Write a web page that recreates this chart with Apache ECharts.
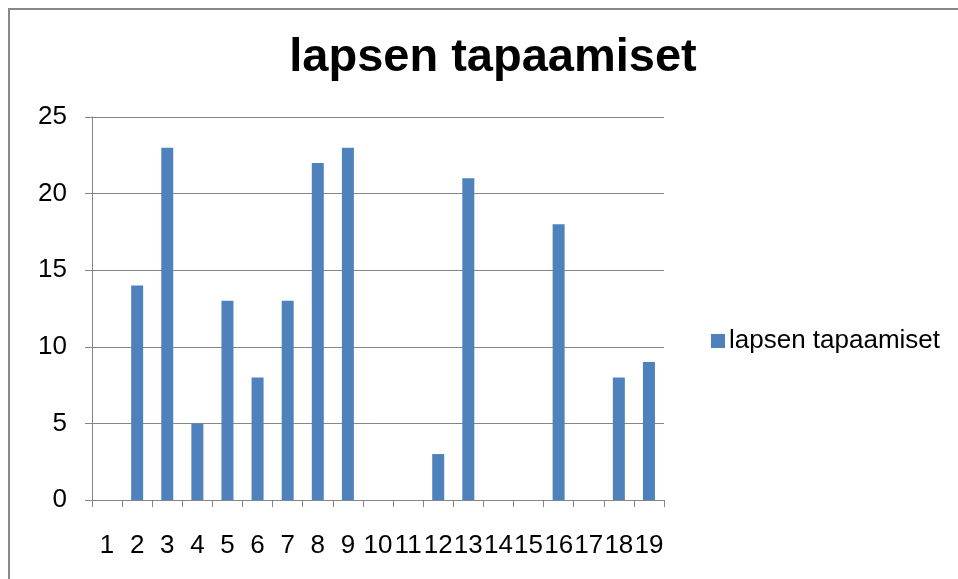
<!DOCTYPE html>
<html>
<head>
<meta charset="utf-8">
<script src="https://cdn.jsdelivr.net/npm/echarts@6/dist/echarts.min.js"></script>
<style>
    html, body { margin: 0; padding: 0; background: #fff; }
    #frame {
        position: absolute; left: 8px; top: 8px; width: 950px; height: 571px;
        border-left: 2px solid #888; border-top: 2px solid #888;
    }
    #chart { position: absolute; left: 0; top: 0; width: 958px; height: 579px; }
</style>
</head>
<body>
<div id="frame"></div>
<div id="chart"></div>
<script>
    var categories = ['1', '2', '3', '4', '5', '6', '7', '8', '9', '10', '11', '12', '13', '14', '15', '16', '17', '18', '19'];
    var values = [0, 14, 23, 5, 13, 8, 13, 22, 23, 0, 0, 3, 21, 0, 0, 18, 0, 8, 9];
    var seriesName = 'lapsen tapaamiset';

    var font = 'Liberation Sans, Arial, sans-serif';
    var myChart = echarts.init(document.getElementById('chart'), null, { renderer: 'canvas' });

    var option = {
        animation: false,
        title: {
            text: 'lapsen tapaamiset',
            left: 488,
            textAlign: 'center',
            top: 30,
            textStyle: { fontFamily: font, fontSize: 47, fontWeight: 'bold', color: '#000' }
        },
        legend: {
            left: 706,
            top: 323,
            icon: 'rect',
            itemWidth: 14,
            itemHeight: 14,
            itemGap: 5,
            selectedMode: false,
            textStyle: { fontFamily: font, fontSize: 26, color: '#000', padding: [0, 0, 0, -1] },
            data: [seriesName]
        },
        grid: { left: 92, right: 294, top: 117, bottom: 79, containLabel: false },
        xAxis: {
            type: 'category',
            data: categories,
            axisLine: { lineStyle: { color: '#868686', width: 1 } },
            axisTick: { show: true, length: 7, interval: 0, lineStyle: { color: '#868686' } },
            axisLabel: { interval: 0, margin: 33, fontFamily: font, fontSize: 26, color: '#000' }
        },
        yAxis: {
            type: 'value',
            min: 0,
            max: 25,
            interval: 5,
            axisLine: { show: true, lineStyle: { color: '#868686', width: 1 } },
            axisTick: { show: true, length: 7, lineStyle: { color: '#868686' } },
            axisLabel: { margin: 25, fontFamily: font, fontSize: 26, color: '#000' },
            splitLine: { lineStyle: { color: '#868686', width: 1 } }
        },
        series: [{
            name: seriesName,
            type: 'bar',
            data: values,
            barWidth: 12,
            itemStyle: { color: '#4f81bd' }
        }]
    };
    myChart.setOption(option);
</script>
</body>
</html>
